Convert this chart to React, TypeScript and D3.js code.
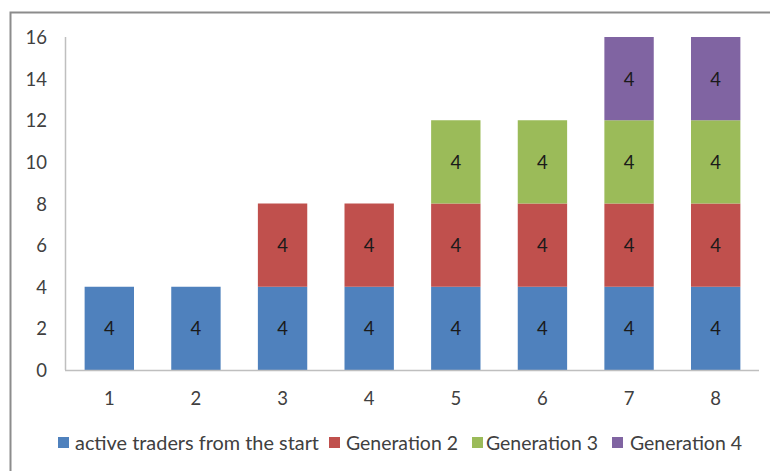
import React from "react";
import * as d3 from "d3";

const categories = ["1", "2", "3", "4", "5", "6", "7", "8"];
const seriesNames = ["active traders from the start", "Generation 2", "Generation 3", "Generation 4"];
const activeFromStart = [4, 4, 4, 4, 4, 4, 4, 4];
const generation2 = [0, 0, 4, 4, 4, 4, 4, 4];
const generation3 = [0, 0, 0, 0, 4, 4, 4, 4];
const generation4 = [0, 0, 0, 0, 0, 0, 4, 4];
const yTicks = [0, 2, 4, 6, 8, 10, 12, 14, 16];
const colors = ["#4F81BD", "#C0504D", "#9BBB59", "#8064A2"];

const W = 770;
const H = 471;
const margin = { left: 66, right: 11, top: 37, bottom: 101 };
const FONT = "Lato, 'Open Sans', sans-serif";
const FS = 18.5;

export default function App() {
  const seriesValues = [activeFromStart, generation2, generation3, generation4];
  const rows = categories.map((c, i) => {
    const r: any = { cat: c };
    seriesNames.forEach((s, k) => (r[s] = seriesValues[k][i]));
    return r;
  });
  const stacked = d3.stack<any>().keys(seriesNames)(rows);

  const x = d3
    .scaleBand()
    .domain(categories)
    .range([margin.left, W - margin.right])
    .paddingInner(0.43)
    .paddingOuter(0.215);
  const y = d3.scaleLinear().domain([0, 16]).range([H - margin.bottom, margin.top]);

  const legendX = [58, 329, 472, 612];
  const legendTextX = [75, 346, 486, 630];
  const legendLen = [244, 112, 112, 112];

  return (
    <svg width={W} height={H} style={{ position: "absolute", left: 0, top: 0 }}>
      <rect x={0} y={0} width={W} height={H} fill="#fff" />
      <rect x={10.5} y={12.5} width={W + 20} height={H + 20} fill="none" stroke="#8c8c8c" strokeWidth={2} />
      {yTicks.map((t) => (
        <text
          key={t}
          x={47}
          y={y(t)}
          textAnchor="end"
          dominantBaseline="central"
          fontFamily={FONT}
          fontSize={FS}
          fill="#404040"
        >
          {t}
        </text>
      ))}
      {stacked.map((layer, k) =>
        layer.map((d, i) => {
          if (d[1] - d[0] <= 0) return null;
          const bx = x(categories[i])!;
          return (
            <g key={`${k}-${i}`}>
              <rect
                x={bx}
                y={y(d[1])}
                width={x.bandwidth()}
                height={y(d[0]) - y(d[1])}
                fill={colors[k]}
              />
              <text
                x={bx + x.bandwidth() / 2}
                y={(y(d[0]) + y(d[1])) / 2}
                textAnchor="middle"
                dominantBaseline="central"
                fontFamily={FONT}
                fontSize={FS}
                fill="#1a1a1a"
              >
                {d[1] - d[0]}
              </text>
            </g>
          );
        })
      )}
      <line x1={65.5} x2={65.5} y1={y(16)} y2={y(0)} stroke="#bfbfbf" strokeWidth={1.5} />
      <line x1={65} x2={W - margin.right} y1={y(0) + 0.5} y2={y(0) + 0.5} stroke="#bfbfbf" strokeWidth={1.5} />
      {categories.map((c) => (
        <text
          key={c}
          x={x(c)! + x.bandwidth() / 2}
          y={398}
          textAnchor="middle"
          dominantBaseline="central"
          fontFamily={FONT}
          fontSize={FS}
          fill="#404040"
        >
          {c}
        </text>
      ))}
      {seriesNames.map((s, k) => (
        <g key={s}>
          <rect x={legendX[k]} y={437} width={11} height={11} fill={colors[k]} />
          <text
            x={legendTextX[k]}
            y={443}
            dominantBaseline="central"
            fontFamily={FONT}
            fontSize={FS}
            fill="#404040"
            textLength={legendLen[k]}
            lengthAdjust="spacingAndGlyphs"
          >
            {s}
          </text>
        </g>
      ))}
    </svg>
  );
}
